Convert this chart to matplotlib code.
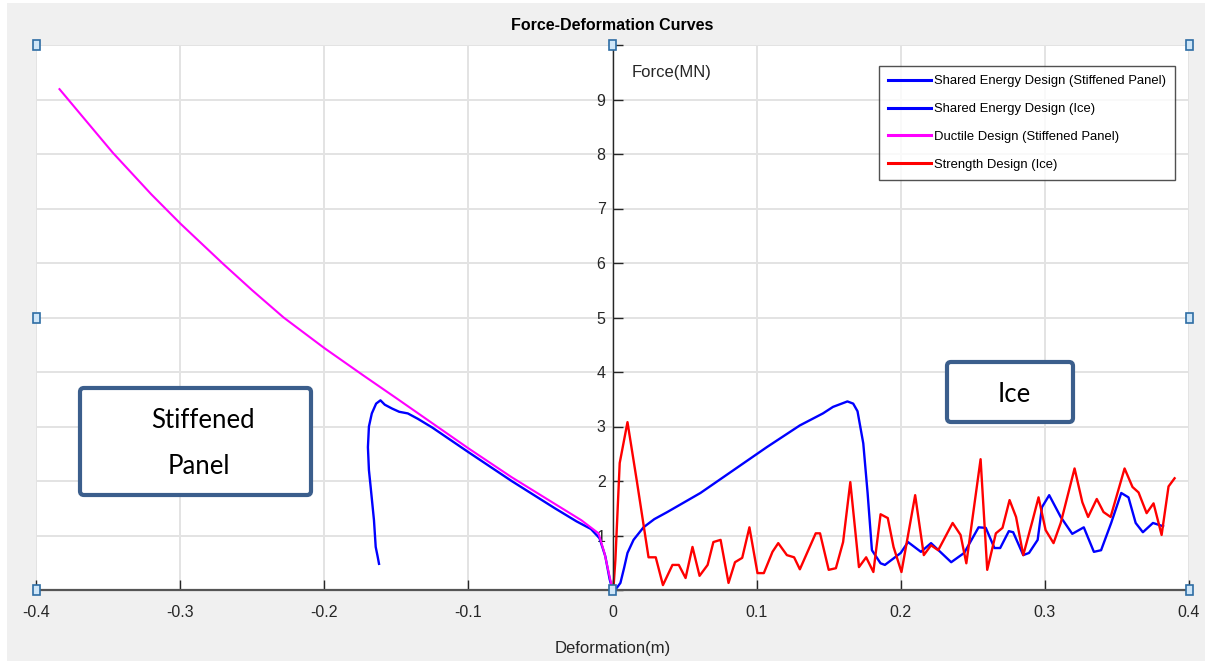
import matplotlib
matplotlib.use("Agg")
import matplotlib.pyplot as plt
from matplotlib.patches import Rectangle, FancyBboxPatch
from matplotlib.transforms import IdentityTransform

plt.rcParams['font.family'] = ['Liberation Sans Narrow', 'Liberation Sans', 'DejaVu Sans']

# ---- data ----
# Shared Energy Design (Stiffened Panel)
se_panel_x = [0.0, -0.002, -0.005, -0.009, -0.015, -0.025, -0.04, -0.07, -0.1,
              -0.125, -0.135, -0.142, -0.148, -0.153, -0.158, -0.161, -0.164, -0.167,
              -0.169, -0.1697, -0.169, -0.1678, -0.1655, -0.1643, -0.163, -0.162]
se_panel_y = [0.0, 0.2, 0.62, 0.95, 1.12, 1.26, 1.5, 2.0, 2.53,
              2.98, 3.14, 3.24, 3.27, 3.33, 3.4, 3.48, 3.42, 3.24,
              3.0, 2.62, 2.2, 1.89, 1.28, 0.79, 0.62, 0.48]

# Shared Energy Design (Ice)
se_ice_x = [0.0, 0.003, 0.0055, 0.0080, 0.0104, 0.0146, 0.0215, 0.029, 0.038, 0.061,
            0.084, 0.107, 0.130, 0.146, 0.153, 0.159, 0.163, 0.167, 0.170, 0.174,
            0.177, 0.180, 0.186, 0.189, 0.200,
            0.205, 0.214, 0.221, 0.235, 0.244, 0.254, 0.259, 0.265, 0.269, 0.275,
            0.278, 0.285, 0.289, 0.295, 0.298, 0.303, 0.311, 0.319, 0.327, 0.334,
            0.339, 0.346, 0.353, 0.358, 0.363, 0.368, 0.375, 0.382]
se_ice_y = [0.0, 0.04, 0.13, 0.4, 0.68, 0.92, 1.15, 1.3, 1.43, 1.78,
            2.2, 2.62, 3.02, 3.24, 3.36, 3.42, 3.46, 3.42, 3.28, 2.69,
            1.78, 0.73, 0.49, 0.46, 0.68,
            0.88, 0.70, 0.86, 0.51, 0.68, 1.15, 1.14, 0.77, 0.77, 1.08,
            1.06, 0.64, 0.68, 0.92, 1.52, 1.74, 1.34, 1.03, 1.15, 0.70,
            0.73, 1.23, 1.78, 1.70, 1.23, 1.06, 1.23, 1.17]

# Ductile Design (Stiffened Panel)
ductile_x = [-0.3837, -0.365, -0.3466, -0.32, -0.2997, -0.27, -0.25, -0.2282, -0.2, -0.1725,
             -0.15, -0.125, -0.1, -0.07, -0.04, -0.0216, -0.0097, -0.0056, -0.0007, 0.0]
ductile_y = [9.19, 8.6, 8.02, 7.26, 6.72, 5.98, 5.5, 5.0, 4.44, 3.93,
             3.52, 3.06, 2.6, 2.07, 1.58, 1.28, 1.04, 0.68, 0.09, 0.0]

# Strength Design (Ice)
strength_x = [0.0, 0.0007, 0.002, 0.005, 0.0104, 0.017, 0.025, 0.030, 0.035, 0.0416,
              0.046, 0.0507, 0.0555, 0.0604, 0.066, 0.070, 0.075, 0.0805, 0.085, 0.090,
              0.095, 0.1006, 0.105, 0.111, 0.115, 0.121, 0.126, 0.130, 0.141, 0.144,
              0.150, 0.155, 0.160, 0.165, 0.171, 0.176, 0.181, 0.186, 0.191, 0.195,
              0.2005, 0.210, 0.216, 0.221, 0.226, 0.236, 0.2415, 0.2455, 0.2554, 0.260,
              0.266, 0.2706, 0.2755, 0.280, 0.285, 0.2915, 0.2956, 0.3005, 0.306, 0.311,
              0.3206, 0.326, 0.330, 0.336, 0.3407, 0.3456, 0.3553, 0.3608, 0.365, 0.3706,
              0.3754, 0.381, 0.3858, 0.390]
strength_y = [0.0, 0.05, 0.55, 2.33, 3.08, 1.98, 0.6, 0.6, 0.09, 0.46,
              0.46, 0.22, 0.79, 0.26, 0.46, 0.88, 0.92, 0.13, 0.51, 0.59,
              1.15, 0.31, 0.31, 0.70, 0.86, 0.64, 0.6, 0.38, 1.04, 1.04,
              0.37, 0.4, 0.88, 1.98, 0.42, 0.6, 0.33, 1.39, 1.32, 0.79,
              0.33, 1.74, 0.64, 0.82, 0.73, 1.23, 1.01, 0.49, 2.40, 0.37,
              1.04, 1.14, 1.65, 1.34, 0.64, 1.28, 1.70, 1.10, 0.86, 1.23,
              2.23, 1.61, 1.34, 1.67, 1.43, 1.34, 2.23, 1.89, 1.79, 1.41,
              1.59, 1.01, 1.90, 2.05]

x_ticks = [-0.4, -0.3, -0.2, -0.1, 0, 0.1, 0.2, 0.3, 0.4]
x_labels = ['-0.4', '-0.3', '-0.2', '-0.1', '0', '0.1', '0.2', '0.3', '0.4']
y_ticks = [0, 1, 2, 3, 4, 5, 6, 7, 8, 9, 10]
y_labels = ['', '1', '2', '3', '4', '5', '6', '7', '8', '9', '']

W, H = 1205, 661
fig = plt.figure(figsize=(W / 100, H / 100), dpi=100, facecolor='white')
fig.patches.append(Rectangle((7 / W, 0), 1 - 7 / W, 1 - 3 / H, transform=fig.transFigure,
                             facecolor='#f0f0f0', edgecolor='none', zorder=-10))

ax = fig.add_axes([36 / W, 71 / H, (1189 - 36) / W, (590 - 45) / H])
ax.set_facecolor('white')

ax.plot(se_panel_x, se_panel_y, color='#0000ff', lw=1.7, label='Shared Energy Design (Stiffened Panel)')
ax.plot(se_ice_x, se_ice_y, color='#0000ff', lw=1.7, label='Shared Energy Design (Ice)')
ax.plot(ductile_x, ductile_y, color='#ff00ff', lw=1.5, label='Ductile Design (Stiffened Panel)')
ax.plot(strength_x, strength_y, color='#ff0000', lw=1.7, label='Strength Design (Ice)')

ax.set_xlim(-0.4, 0.4)
ax.set_ylim(0, 10)
ax.set_xticks(x_ticks)
ax.set_xticklabels(x_labels)
ax.set_yticks(y_ticks)
ax.set_yticklabels(y_labels)

ax.grid(True, color='#e3e3e3', lw=1.4)
ax.set_axisbelow(True)

ax.spines['left'].set_position(('data', 0))
ax.spines['left'].set_color('#262626')
ax.spines['left'].set_linewidth(1.0)
ax.spines['bottom'].set_color('#555555')
ax.spines['bottom'].set_linewidth(1.6)
ax.spines['right'].set_visible(False)
ax.spines['top'].set_visible(False)
ax.tick_params(axis='y', direction='in', length=7, width=1, colors='#262626',
               labelsize=11.5, pad=5)
ax.tick_params(axis='x', direction='in', length=7, width=1, colors='#262626',
               labelsize=11.5, pad=11)

ax.set_xlabel('Deformation(m)', fontsize=12, color='#262626', labelpad=15)
ax.text(0.013, 9.49, 'Force(MN)', fontsize=12, color='#262626', va='center', ha='left')
ax.set_title('Force-Deformation Curves', fontsize=11.5, fontweight='bold', pad=11)

leg = ax.legend(loc='upper right', bbox_to_anchor=(1 - 14 / 1153, 1 - 21 / 545),
                fontsize=9.4, frameon=True, fancybox=False, handlelength=3.25,
                handletextpad=0.25, borderpad=0.7, labelspacing=1.2, borderaxespad=0)
leg.get_frame().set_edgecolor('#262626')
leg.get_frame().set_linewidth(1.0)
for line in leg.get_lines():
    line.set_linewidth(2.2)

# annotation boxes (pixel coordinates, origin top-left converted)
def label_box(x0, y0, x1, y1):
    box = FancyBboxPatch((x0, H - y1), x1 - x0, y1 - y0, transform=IdentityTransform(),
                         boxstyle='round,pad=0,rounding_size=4', facecolor='white',
                         edgecolor='#3b5e8c', lw=3.0, zorder=5)
    fig.patches.append(box)

label_box(80, 388, 311, 495)
label_box(947, 362, 1073, 422)
fig.text(203 / W, 1 - 421 / H, 'Stiffened', fontsize=18.5, family='Lato', ha='center', va='center', zorder=6)
fig.text(199 / W, 1 - 466 / H, 'Panel', fontsize=18.5, family='Lato', ha='center', va='center', zorder=6)
fig.text(1014 / W, 1 - 395 / H, 'Ice', fontsize=18.5, family='Lato', ha='center', va='center', zorder=6)

# selection handles of the figure editor
for hx, hy in [(36, 45), (612, 45), (1189, 45), (36, 318), (1189, 318),
               (36, 590), (612, 590), (1189, 590)]:
    fig.patches.append(Rectangle(((hx - 3.5) / W, 1 - (hy + 5) / H), 7 / W, 10 / H,
                                 transform=fig.transFigure, facecolor='#cfe6f8',
                                 edgecolor='#2e6da4', lw=1.2, zorder=10))

fig.savefig('out.png', dpi=100)
